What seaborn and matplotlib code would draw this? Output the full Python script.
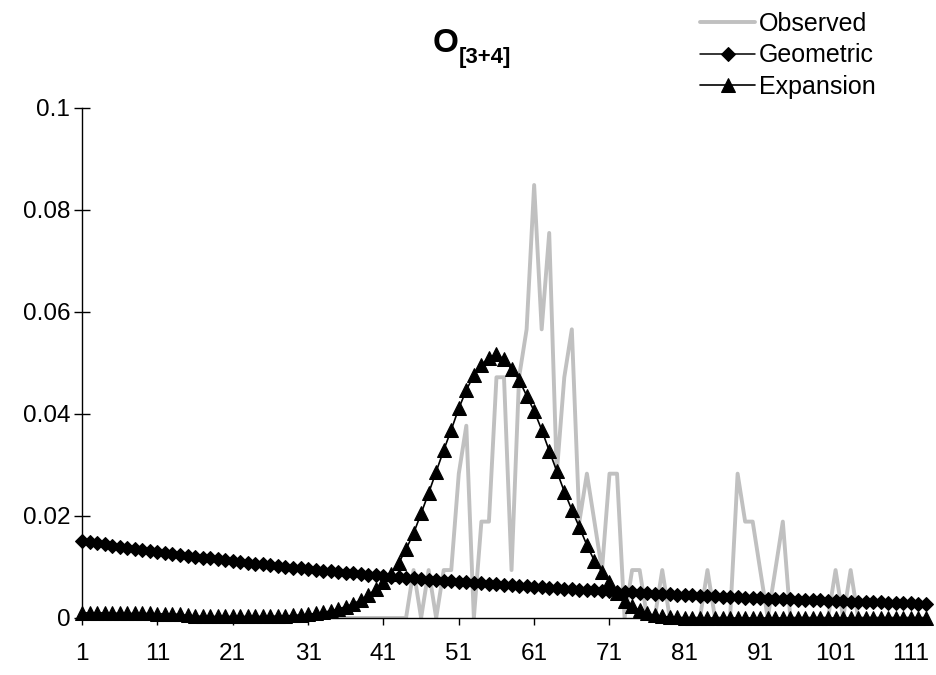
import numpy as np
import pandas as pd
import matplotlib
matplotlib.use("Agg")
import matplotlib.pyplot as plt
import seaborn as sns

# =========================================================
# DATA
# =========================================================

position = list(range(1, 114))

observed = [
    0, 0, 0, 0, 0, 0, 0, 0, 0, 0,
    0, 0, 0, 0, 0, 0, 0, 0, 0, 0,
    0, 0, 0, 0, 0, 0, 0, 0, 0, 0,
    0, 0, 0, 0, 0, 0, 0, 0, 0, 0,
    0, 0, 0, 0, 0.0094, 0, 0.0094, 0, 0.0094, 0.0094,
    0.0283, 0.0377, 0, 0.0189, 0.0189, 0.0472, 0.0472, 0.0094, 0.0472, 0.0566,
    0.0849, 0.0566, 0.0755, 0.0283, 0.0472, 0.0566, 0.0189, 0.0283, 0.0189, 0.0094,
    0.0283, 0.0283, 0, 0.0094, 0.0094, 0, 0, 0.0094, 0, 0,
    0, 0, 0, 0.0094, 0, 0, 0, 0.0283, 0.0189, 0.0189,
    0.0094, 0, 0.0094, 0.0189, 0, 0, 0, 0, 0, 0,
    0.0094, 0, 0.0094, 0, 0, 0, 0, 0, 0, 0,
    0, 0, 0,
]

geometric = [
    0.015100, 0.014874, 0.014650, 0.014431, 0.014214, 0.014001, 0.013791, 0.013584, 0.013380, 0.013180,
    0.012982, 0.012787, 0.012595, 0.012406, 0.012220, 0.012037, 0.011856, 0.011679, 0.011503, 0.011331,
    0.011161, 0.010993, 0.010829, 0.010666, 0.010506, 0.010349, 0.010193, 0.010040, 0.009890, 0.009742,
    0.009595, 0.009452, 0.009310, 0.009170, 0.009033, 0.008897, 0.008764, 0.008632, 0.008503, 0.008375,
    0.008249, 0.008126, 0.008004, 0.007884, 0.007765, 0.007649, 0.007534, 0.007421, 0.007310, 0.007200,
    0.007092, 0.006986, 0.006881, 0.006778, 0.006676, 0.006576, 0.006478, 0.006380, 0.006285, 0.006190,
    0.006097, 0.006006, 0.005916, 0.005827, 0.005740, 0.005654, 0.005569, 0.005485, 0.005403, 0.005322,
    0.005242, 0.005164, 0.005086, 0.005010, 0.004935, 0.004861, 0.004788, 0.004716, 0.004645, 0.004576,
    0.004507, 0.004439, 0.004373, 0.004307, 0.004243, 0.004179, 0.004116, 0.004055, 0.003994, 0.003934,
    0.003875, 0.003817, 0.003760, 0.003703, 0.003648, 0.003593, 0.003539, 0.003486, 0.003434, 0.003382,
    0.003331, 0.003281, 0.003232, 0.003184, 0.003136, 0.003089, 0.003043, 0.002997, 0.002952, 0.002908,
    0.002864, 0.002821, 0.002779,
]

expansion = [
    0.0010, 0.0010, 0.0010, 0.0010, 0.0010, 0.0009, 0.0009, 0.0009, 0.0009, 0.0009,
    0.0008, 0.0008, 0.0008, 0.0007, 0.0005, 0.0004, 0.0003, 0.0003, 0.0003, 0.0003,
    0.0003, 0.0003, 0.0003, 0.0003, 0.0003, 0.0003, 0.0004, 0.0004, 0.0005, 0.0006,
    0.0007, 0.0009, 0.0011, 0.0014, 0.0018, 0.0022, 0.0028, 0.0035, 0.0045, 0.0057,
    0.0070, 0.0086, 0.0107, 0.0135, 0.0166, 0.0205, 0.0245, 0.0287, 0.0329, 0.0369,
    0.0411, 0.0447, 0.0476, 0.0497, 0.0510, 0.0517, 0.0507, 0.0488, 0.0467, 0.0436,
    0.0406, 0.0369, 0.0328, 0.0288, 0.0248, 0.0212, 0.0178, 0.0143, 0.0112, 0.0091,
    0.0071, 0.0050, 0.0034, 0.0023, 0.0015, 0.0009, 0.0005, 0.0003, 0.0002, 0.0001,
    0, 0, 0, 0, 0, 0, 0, 0, 0, 0,
    0, 0, 0, 0, 0, 0, 0, 0, 0, 0,
    0, 0, 0, 0, 0, 0, 0, 0, 0, 0,
    0, 0, 0,
]

x_ticks = [1, 11, 21, 31, 41, 51, 61, 71, 81, 91, 101, 111]
y_ticks = [0, 0.02, 0.04, 0.06, 0.08, 0.1]
y_tick_labels = ["0", "0.02", "0.04", "0.06", "0.08", "0.1"]

df = pd.DataFrame({
    "pos": position,
    "Observed": observed,
    "Geometric": geometric,
    "Expansion": expansion,
})

# =========================================================
# STYLE
# =========================================================

sns.set_theme(style="white")
plt.rcParams["font.family"] = ["Liberation Sans", "DejaVu Sans"]
plt.rcParams["text.color"] = "black"
plt.rcParams["xtick.color"] = "black"
plt.rcParams["ytick.color"] = "black"
plt.rcParams["axes.labelcolor"] = "black"

fig = plt.figure(figsize=(9.36, 6.75), dpi=100)
ax = fig.add_axes([82 / 936, 1 - 618 / 675, (926 - 82) / 936, (618 - 108) / 675])

# =========================================================
# LINES
# =========================================================

sns.lineplot(data=df, x="pos", y="Observed", ax=ax, color="#c0c0c0",
             linewidth=2.8, label="Observed")
sns.lineplot(data=df, x="pos", y="Geometric", ax=ax, color="black",
             linewidth=1.1, marker="D", markersize=7,
             markeredgecolor="black", markerfacecolor="black",
             label="Geometric", clip_on=False)
sns.lineplot(data=df, x="pos", y="Expansion", ax=ax, color="black",
             linewidth=1.2, marker="^", markersize=9.5,
             markeredgecolor="black", markerfacecolor="black",
             label="Expansion", clip_on=False)

# =========================================================
# AXES
# =========================================================

ax.set_xlim(1, 113)
ax.set_ylim(0, 0.1)
ax.set_xticks(x_ticks)
ax.set_xticklabels([str(t) for t in x_ticks])
ax.set_yticks(y_ticks)
ax.set_yticklabels(y_tick_labels)
ax.set_xlabel("")
ax.set_ylabel("")

for side in ["top", "right"]:
    ax.spines[side].set_visible(False)
for side in ["left", "bottom"]:
    ax.spines[side].set_color("black")
    ax.spines[side].set_linewidth(1.0)

ax.tick_params(axis="y", direction="inout", length=11, width=1.0,
               labelsize=17.5, pad=3, left=True)
ax.tick_params(axis="x", direction="out", length=5, width=1.0,
               labelsize=17.5, pad=13, bottom=True)

# title: O with bold subscript [3+4]
fig.text(458 / 936, 1 - 43 / 675, "O", ha="right", va="center",
         fontsize=24, fontweight="bold")
fig.text(459 / 936, 1 - 57 / 675, "[3+4]", ha="left", va="center",
         fontsize=16, fontweight="bold")

# legend
ax.legend_.remove()
handles, labels = ax.get_legend_handles_labels()
fig.legend(handles, labels, loc="upper left",
           bbox_to_anchor=(690 / 936, 1 - 2 / 675),
           frameon=False, fontsize=18, handlelength=2.2,
           handletextpad=0.15, labelspacing=0.3, borderaxespad=0)

fig.savefig("out.png", dpi=100)
